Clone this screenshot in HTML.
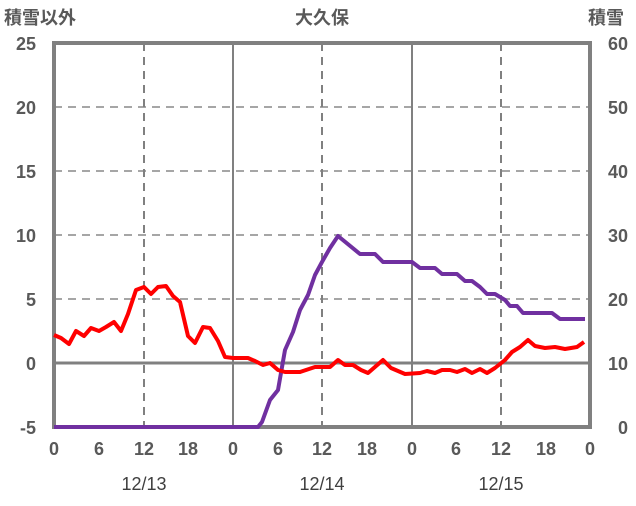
<!DOCTYPE html>
<html><head><meta charset="utf-8"><style>
body{margin:0;background:#fff}
text{font-family:"Liberation Sans","Noto Sans CJK JP",sans-serif;fill:#595959;font-size:18px}
</style></head><body>
<svg width="636" height="501" xmlns="http://www.w3.org/2000/svg">
<defs><clipPath id="c"><rect x="50" y="40" width="540" height="400"/></clipPath></defs>
<rect width="636" height="501" fill="#fff"/>
<g stroke="#a6a6a6" stroke-width="2" stroke-dasharray="8,6">
<line x1="54" y1="107" x2="590" y2="107"/><line x1="54" y1="171" x2="590" y2="171"/>
<line x1="54" y1="235" x2="590" y2="235"/><line x1="54" y1="299" x2="590" y2="299"/>
</g>
<g stroke="#808080" stroke-width="2" stroke-dasharray="8,6">
<line x1="144" y1="43" x2="144" y2="427"/><line x1="322" y1="43" x2="322" y2="427"/><line x1="501" y1="43" x2="501" y2="427"/>
</g>
<g stroke="#808080" stroke-width="2">
<line x1="233" y1="43" x2="233" y2="427"/><line x1="412" y1="43" x2="412" y2="427"/>
</g>
<line x1="54" y1="363" x2="590" y2="363" stroke="#808080" stroke-width="3"/>
<rect x="54" y="43" width="536" height="384" fill="none" stroke="#808080" stroke-width="4"/>
<polyline fill="none" stroke="#7030a0" stroke-width="4" stroke-linejoin="round" points="54,427 258,427 262,422 270,400 278,390 285,350 293,332 300,310 308,295 315,275 322,262 330,248 338,236 360,254 375,254 383,262 412,262 420,268 435,268 442,274 457,274 465,281 472,281 480,287 487,294 495,294 505,300 510,306 517,306 523,313 552,313 560,319 585,319"/>
<polyline fill="none" stroke="#ff0000" stroke-width="4" stroke-linejoin="round" points="54,335 61,338 69,344 76,331 84,336 91,328 99,331 106,327 114,322 121,331 128,314 136,290 144,287 151,294 158,287 166,286 173,296 180,302 188,336 195,343 203,327 210,328 218,341 225,357 233,358 240,358 248,358 255,361 263,365 270,363 278,370 285,372 293,372 300,372 315,367 330,367 338,360 345,365 353,365 361,370 368,373 383,360 391,368 405,374 420,373 427,371 435,373 442,370 450,370 457,372 465,369 472,373 480,369 487,373 495,368 505,360 512,352 520,347 528,340 535,346 545,348 555,347 565,349 577,347 584,342" clip-path="url(#c)"/>
<g text-anchor="end" font-weight="bold">
<text x="36" y="50">25</text><text x="36" y="114">20</text><text x="36" y="178">15</text><text x="36" y="242">10</text><text x="36" y="306">5</text><text x="36" y="370">0</text><text x="36" y="434">-5</text>
</g>
<g text-anchor="end" font-weight="bold">
<text x="628" y="50">60</text><text x="628" y="114">50</text><text x="628" y="178">40</text><text x="628" y="242">30</text><text x="628" y="306">20</text><text x="628" y="370">10</text><text x="628" y="434">0</text>
</g>
<g text-anchor="middle" font-weight="bold">
<text x="54" y="455">0</text><text x="99" y="455">6</text><text x="144" y="455">12</text><text x="188" y="455">18</text>
<text x="233" y="455">0</text><text x="278" y="455">6</text><text x="322" y="455">12</text><text x="367" y="455">18</text>
<text x="412" y="455">0</text><text x="456" y="455">6</text><text x="501" y="455">12</text><text x="546" y="455">18</text><text x="590" y="455">0</text>
<text x="144" y="490" font-weight="normal" style="fill:#404040">12/13</text><text x="322" y="490" font-weight="normal" style="fill:#404040">12/14</text><text x="501" y="490" font-weight="normal" style="fill:#404040">12/15</text>
<text x="322" y="24">大久保</text>
</g>
<text x="4" y="24" font-weight="bold">積雪以外</text>
<text x="588" y="24" font-weight="bold">積雪</text>
</svg>
</body></html>
